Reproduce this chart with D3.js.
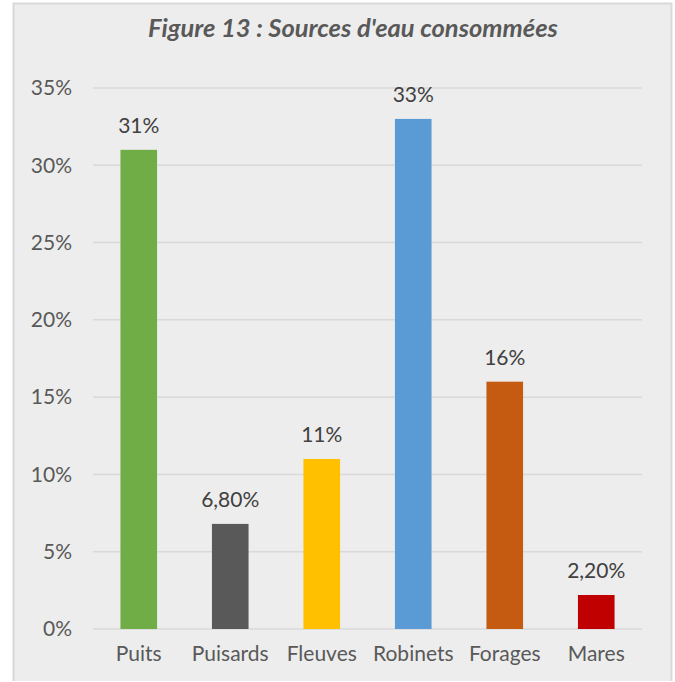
<!DOCTYPE html>
<html>
<head>
<meta charset="utf-8">
<script src="https://cdn.jsdelivr.net/npm/d3@7"></script>
<style>
  body { margin: 0; background: #fff; }
  svg { display: block; }
</style>
</head>
<body>
<svg id="chart" width="675" height="682"></svg>
<script>
// Data
const categories = ['Puits', 'Puisards', 'Fleuves', 'Robinets', 'Forages', 'Mares'];
const values = [31, 6.8, 11, 33, 16, 2.2];
const valueLabels = ['31%', '6,80%', '11%', '33%', '16%', '2,20%'];
const barColors = ['#70ad47', '#595959', '#ffc000', '#5b9bd5', '#c55a11', '#c00000'];
const yTicks = [0, 5, 10, 15, 20, 25, 30, 35];

const font_family = 'Lato, "Open Sans", sans-serif';
const font_size = '21px';
const margin = { top: 88, right: 33, bottom: 53, left: 93 };
const width = 675, height = 682;

const svg = d3.select('#chart');

// Chart area background and frame (bottom edge falls outside the crop)
svg.append('rect')
    .attr('x', 13).attr('y', 3)
    .attr('width', 659).attr('height', 678)
    .attr('fill', '#ededed');

svg.append('path')
    .attr('d', 'M13.5,681 V3.5 H671.5 V681')
    .attr('fill', 'none')
    .attr('stroke', '#d9d9d9')
    .attr('stroke-width', 2);

const innerWidth = width - margin.left - margin.right;
const innerHeight = height - margin.top - margin.bottom;

const xScale = d3.scaleBand()
    .domain(categories)
    .range([0, innerWidth])
    .paddingInner(0.6)
    .paddingOuter(0.3);

const yScale = d3.scaleLinear()
    .domain([0, 35])
    .range([innerHeight, 0]);

const g = svg.append('g')
    .attr('transform', `translate(${margin.left}, ${margin.top})`);

// Gridlines
g.append('g')
    .selectAll('line')
    .data(yTicks)
    .join('line')
    .attr('x1', 0).attr('x2', innerWidth)
    .attr('y1', d => yScale(d)).attr('y2', d => yScale(d))
    .attr('stroke', '#d9d9d9')
    .attr('stroke-width', 1.5);

// Y axis labels
const yAxis = g.append('g')
    .call(d3.axisLeft(yScale).tickValues(yTicks).tickFormat(d => d + '%').tickSize(0).tickPadding(21));
yAxis.select('.domain').remove();
yAxis.selectAll('text')
    .style('font-size', font_size)
    .style('font-family', font_family)
    .style('fill', '#595959');

// X axis labels
const xAxis = g.append('g')
    .attr('transform', `translate(0, ${innerHeight})`)
    .call(d3.axisBottom(xScale).tickSize(0).tickPadding(17));
xAxis.select('.domain').remove();
xAxis.selectAll('text')
    .style('font-size', font_size)
    .style('font-family', font_family)
    .style('fill', '#595959');

// Bars
g.selectAll('.bar')
    .data(categories)
    .join('rect')
    .attr('class', 'bar')
    .attr('x', d => xScale(d))
    .attr('y', (d, i) => yScale(values[i]))
    .attr('width', xScale.bandwidth())
    .attr('height', (d, i) => innerHeight - yScale(values[i]))
    .attr('fill', (d, i) => barColors[i]);

// Data labels
g.selectAll('.value-label')
    .data(categories)
    .join('text')
    .attr('class', 'value-label')
    .attr('x', d => xScale(d) + xScale.bandwidth() / 2)
    .attr('y', (d, i) => yScale(values[i]) - 17)
    .attr('text-anchor', 'middle')
    .attr('font-family', font_family)
    .attr('font-size', font_size)
    .attr('fill', '#404040')
    .text((d, i) => valueLabels[i]);

// Title
svg.append('text')
    .attr('x', 353)
    .attr('y', 37)
    .attr('text-anchor', 'middle')
    .attr('font-family', font_family)
    .attr('font-size', '25.5px')
    .attr('font-weight', 'bold')
    .attr('font-style', 'italic')
    .attr('fill', '#595959')
    .text("Figure 13 : Sources d'eau consommées");
</script>
</body>
</html>
